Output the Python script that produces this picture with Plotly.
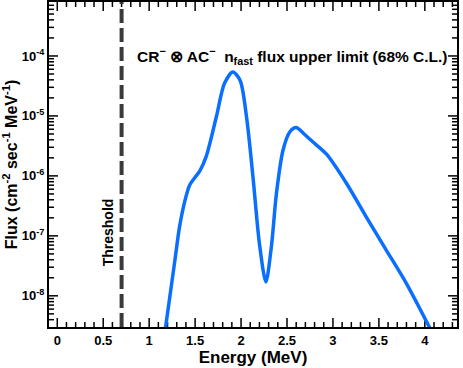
import plotly.graph_objects as go

# energy (MeV) and flux upper limit (cm^-2 s^-1 MeV^-1)
energy = [1.17, 1.28, 1.33, 1.39, 1.44, 1.50, 1.55, 1.62, 1.73, 1.82, 1.91,
          1.99, 2.06, 2.13, 2.20, 2.27, 2.33, 2.385, 2.457, 2.53, 2.60,
          2.68, 2.78, 2.93, 3.15, 3.36, 3.58, 3.80, 4.06]
flux = [2.4e-9, 3.9e-8, 1.4e-7, 3.9e-7, 7.0e-7, 9.5e-7, 1.2e-6, 2.1e-6,
        9.5e-6, 3.5e-5, 5.4e-5, 3.9e-5, 9.5e-6, 9.5e-7, 7.4e-8, 1.7e-8,
        6.6e-8, 5.1e-7, 2.7e-6, 5.4e-6, 6.4e-6, 5.1e-6, 3.7e-6, 2.3e-6,
        7.4e-7, 2.1e-7, 5.8e-8, 1.6e-8, 2.8e-9]
threshold = 0.7

y_tickvals = [1e-8, 1e-7, 1e-6, 1e-5, 1e-4]
y_ticktext = ['10<sup>-8</sup>', '10<sup>-7</sup>', '10<sup>-6</sup>',
              '10<sup>-5</sup>', '10<sup>-4</sup>']
x_tickvals = [0, 0.5, 1, 1.5, 2, 2.5, 3, 3.5, 4]
x_ticktext = ['0', '0.5', '1', '1.5', '2', '2.5', '3', '3.5', '4']

FONT = 'Liberation Sans, Arial, sans-serif'
XR = [-0.09, 4.35]
YR = [-8.52, -3.1]
PW, PH = 408, 325  # plot area in pixels

fig = go.Figure()

# ROOT-style inside ticks on all four sides, drawn as one line trace
x_minor = [i / 10 for i in range(0, 44)]
y_minor = [d * 10.0 ** e for e in range(-9, -3) for d in range(2, 10)]
y_minor = [v for v in y_minor if 10 ** YR[0] < v < 10 ** YR[1]]
tx, ty = [], []
for v in x_minor:
    n = 9 if any(abs(v - t) < 1e-9 for t in x_tickvals) else 5
    dy = n / PH * (YR[1] - YR[0])
    tx += [v, v, None, v, v, None]
    ty += [10 ** YR[0], 10 ** (YR[0] + dy), None, 10 ** YR[1], 10 ** (YR[1] - dy), None]
for v in y_minor + y_tickvals:
    n = 9 if v in y_tickvals else 5
    dx = n / PW * (XR[1] - XR[0])
    tx += [XR[0], XR[0] + dx, None, XR[1], XR[1] - dx, None]
    ty += [v, v, None, v, v, None]
fig.add_trace(go.Scatter(x=tx, y=ty, mode='lines', line=dict(color='black', width=1.5),
                         hoverinfo='skip'))

fig.add_trace(go.Scatter(
    x=energy, y=flux, mode='lines',
    line=dict(color='rgb(10,110,255)', width=3.5, shape='spline', smoothing=0.8),
    hoverinfo='skip'))

fig.add_shape(type='line', x0=threshold, x1=threshold, y0=0, y1=1,
              xref='x', yref='paper',
              line=dict(color='#3a3a3a', width=4, dash='14px,5px'))

fig.add_annotation(x=threshold, y=0.29, xref='x', yref='paper', xanchor='center', yanchor='middle',
                   text='<b>Threshold</b>', textangle=-90, showarrow=False,
                   xshift=-14, font=dict(size=14, color='black', family=FONT))
fig.add_annotation(x=0.211, y=0.835, xref='paper', yref='paper', xanchor='left', yanchor='middle',
                   text='<b>CR<sup>−</sup> ⊗ AC<sup>−</sup>  n<sub>fast</sub> flux upper limit (68% C.L.)</b>',
                   showarrow=False, font=dict(size=15.5, color='black', family=FONT))

axis_common = dict(showline=True, linecolor='black', linewidth=2, mirror=True,
                   ticks='', showgrid=False, zeroline=False, automargin=False,
                   tickfont=dict(size=13, color='black', family=FONT))

fig.update_xaxes(range=XR, tickmode='array', tickvals=x_tickvals,
                 ticktext=['<b>%s</b>' % t for t in x_ticktext],
                 title=dict(text='<b>Energy (MeV)</b>', font=dict(size=17, color='black', family=FONT), standoff=4),
                 **axis_common)
fig.update_yaxes(type='log', range=YR, tickmode='array', tickvals=y_tickvals,
                 ticktext=['<b>%s</b>' % t for t in y_ticktext],
                 title=dict(text='<b>Flux (cm<sup>-2</sup> sec<sup>-1</sup> MeV<sup>-1</sup>)</b>',
                            font=dict(size=16, color='black', family=FONT), standoff=2),
                 **axis_common)

fig.update_layout(width=463, height=368, showlegend=False,
                  margin=dict(l=49, r=6, t=2, b=41, autoexpand=False),
                  paper_bgcolor='white', plot_bgcolor='white',
                  font=dict(family=FONT, color='black'))

fig.write_html('out.html', config={'displayModeBar': False},
               post_script="document.body.style.margin='0';")
